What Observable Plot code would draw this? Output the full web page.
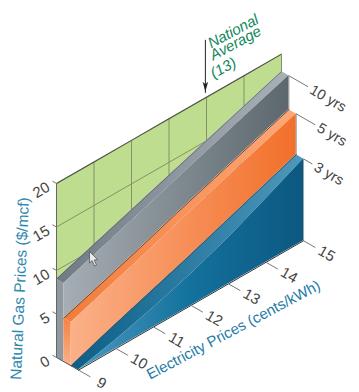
<!DOCTYPE html>
<html>
<head>
<meta charset="utf-8">
<script src="https://cdn.jsdelivr.net/npm/d3@7"></script>
<script src="https://cdn.jsdelivr.net/npm/@observablehq/plot@0.6"></script>
<style>
html,body{margin:0;padding:0;background:#fff}
svg{display:block}
</style>
</head>
<body>
<div id="chart"></div>
<script>
const electricity = [9, 10, 11, 12, 13, 14, 15];
const gasTicks = [0, 5, 10, 15, 20];
const gridElectricity = [10, 11, 12, 13, 14];
const gridGas = [10, 15];
const seriesNames = ["10 yrs", "5 yrs", "3 yrs"];
const tenYears = [9, 10.5, 12, 13.5, 15, 16.5, 18];
const fiveYears = [5, 6.5, 8, 9.6, 11.1, 12.6, 14.1];
const threeYears = [0, 1.6, 3.1, 4.6, 6.2, 7.8, 9.4];
const threeYearsFront = [0, 1, 2.2, 3.6, 5.3, 7.3, 9.4];
const wallTop = 20;
const nationalAverage = 13;

// oblique projection: electricity runs back along the floor, each band steps forward in depth
const risePerCent = 2.478, depthCents = 0.196, depthGas = 0.483;
const U = (e, d) => e + depthCents * d;
const V = (e, g, d) => g + risePerCent * (e - 9) - depthGas * d;

function band(es, g1, d1, g2, d2) {
  return es.map((e, i) => ({
    x1: U(e, d1), y1: V(e, g1[i], d1),
    x2: U(e, d2), y2: V(e, g2[i], d2)
  }));
}
function edge(es, gs, d) {
  return es.map((e, i) => ({x: U(e, d), y: V(e, gs[i], d)}));
}
const zeros = electricity.map(() => 0);
const tops = electricity.map(() => wallTop);
const face = (rows, fill) => Plot.area(rows, {x1: "x1", y1: "y1", x2: "x2", y2: "y2", fill});
const stroke = (rows, color, w) => Plot.line(rows, {x: "x", y: "y", stroke: color, strokeWidth: w});

const ink = "#444";
const gridInk = "#84926a";
const sans = "Liberation Sans, Helvetica, Arial, sans-serif";

const arrowHead = {draw(c, s) { const r = Math.sqrt(s / Math.PI);
  c.moveTo(0, r); c.lineTo(-r * 0.55, -r); c.lineTo(0, -r * 0.5); c.lineTo(r * 0.55, -r); c.closePath(); }};
const cursor = {draw(c) {
  c.moveTo(0, 0); c.lineTo(0, 11.5); c.lineTo(2.6, 9); c.lineTo(5, 14.5); c.lineTo(7, 13.6);
  c.lineTo(4.7, 8.4); c.lineTo(8.2, 8.2); c.closePath(); }};

const noteLines = [["National", 2.4, -53], ["Average", 4.6, -41], ["(13)", 5, -23]];

const marks = [
  // back wall with grid
  face(band(electricity, tops, 0, tenYears, 0), "#bedd8f"),
  ...gridElectricity.map(e => Plot.link([e], {
    x1: d => U(d, 0), y1: d => V(d, 0, 0), x2: d => U(d, 0), y2: d => V(d, wallTop, 0),
    stroke: gridInk, strokeWidth: 1
  })),
  ...gridGas.map(g => stroke(edge(electricity, electricity.map(() => g), 0), gridInk, 1)),
  stroke(edge(electricity, tops, 0), "#4c4c4c", 1.1),
  Plot.link([15], {x1: d => U(d, 0), y1: d => V(d, tenYears[6], 0), x2: d => U(d, 0), y2: d => V(d, wallTop, 0), stroke: gridInk, strokeWidth: 1}),

  // left end of the grey block
  face(band([9, 9], [9, 0], 0, [9, 0], 1), "#8f999f"),
  // grey band
  face(band(electricity, tenYears, 0, tenYears, 1), "url(#greyTop)"),
  face(band(electricity, tenYears, 1, fiveYears, 1), "url(#greyFront)"),
  face(band([9, 9], [5, 0], 1, [0, 0], 1), "#a3acb2"),

  // orange band
  face(band([9, 9], [5, 0], 1, [5, 0], 2), "url(#orangeSide)"),
  face(band(electricity, fiveYears, 1, fiveYears, 2), "url(#orangeTop)"),
  face(band(electricity, fiveYears, 2, threeYears, 2), "url(#orangeFront)"),

  // blue band
  face(band(electricity, threeYears, 2, threeYearsFront, 3), "url(#blueTop)"),
  face(band(electricity, threeYearsFront, 3, zeros, 3), "url(#blueFront)"),

  // edges
  stroke(edge(electricity, tenYears, 0), "#5a6266", 0.7),
  stroke(edge(electricity, fiveYears, 1), "#4c4c4c", 0.9),
  stroke(edge(electricity, threeYears, 2), "#4c4c4c", 0.9),
  stroke(edge(electricity, zeros, 3), "#333", 1),
  stroke(edge([9, 9], [0, wallTop], 0), "#666", 1),
  stroke([{x: U(9, 0), y: V(9, 0, 0)}, {x: U(9, 3), y: V(9, 0, 3)}], "#555", 1),
  stroke(edge([15, 15], [tenYears[6], fiveYears[6]], 1), "#666", 0.7),
  stroke(edge([15, 15], [fiveYears[6], threeYears[6]], 2), "#666", 0.7),
  stroke(edge([15, 15], [threeYears[6], 0], 3), "#777", 0.7),

  // gas axis
  Plot.link(gasTicks, {x1: () => U(9, -0.55), y1: d => V(9, d, -0.55), x2: () => U(9, 0), y2: d => V(9, d, 0), stroke: "#777", strokeWidth: 1}),
  Plot.text(gasTicks, {x: () => U(9, 0), y: d => V(9, d, 0), text: d => String(d), rotate: -30, textAnchor: "end", dx: -8, dy: 2.5, fontSize: 15, fontFamily: sans, fill: ink}),

  // electricity axis
  Plot.link(electricity, {x1: d => U(d, 3), y1: d => V(d, 0, 3), x2: d => U(d, 4.6), y2: d => V(d, 0, 4.6), stroke: "#777", strokeWidth: 1}),
  Plot.text(electricity, {x: d => U(d, 3), y: d => V(d, 0, 3), text: d => String(d), rotate: 30, dx: 23, dy: 13, fontSize: 15, fontFamily: sans, fill: ink}),

  // series leaders and labels
  ...seriesNames.map((name, i) => {
    const g = [tenYears, fiveYears, threeYears][i][6], d0 = i + 1, d1 = [3.6, 4.6, 4.2][i];
    return [
      Plot.link([name], {x1: () => U(15, d0), y1: () => V(15, g, d0), x2: () => U(15, d1), y2: () => V(15, g, d1), stroke: "#777", strokeWidth: 1}),
      Plot.text([name], {x: () => U(15, d1), y: () => V(15, g, d1), text: d => d, rotate: 30, textAnchor: "start", dx: 3, dy: 2, fontSize: 14.5, fontFamily: sans, fill: ink})
    ];
  }),

  // national average note
  Plot.link([nationalAverage], {x1: d => U(d - 0.03, 0), y1: d => V(d, wallTop + 6.6, 0), x2: d => U(d - 0.03, 0), y2: d => V(d, wallTop + 0.5, 0), stroke: "#222", strokeWidth: 1}),
  Plot.dot([nationalAverage], {x: d => U(d - 0.03, 0), y: d => V(d, wallTop + 1.2, 0), r: 5, symbol: arrowHead, fill: "#222", stroke: "none"}),
  ...noteLines.map(([t, dx, dy]) => Plot.text([t], {
    x: () => U(nationalAverage, 0), y: () => V(nationalAverage, wallTop, 0), text: d => d,
    textAnchor: "start", rotate: -28, dx, dy, fontSize: 15, fontStyle: "italic", fontFamily: sans, fill: "#12875c"
  })),

  // axis titles
  Plot.text(["Natural Gas Prices ($/mcf)"], {frameAnchor: "top-left", textAnchor: "middle", lineAnchor: "middle", text: d => d, dx: 19.5, dy: 288, rotate: -87.5, fontSize: 15.5, fontFamily: sans, fill: "#2f88ae"}),
  Plot.text(["Electricity Prices (cents/kWh)"], {frameAnchor: "top-left", textAnchor: "middle", lineAnchor: "middle", text: d => d, dx: 233, dy: 329.5, rotate: -28, fontSize: 15, fontFamily: sans, fill: "#1f7ba6"}),

  // pointer
  Plot.dot([9.88], {x: d => U(d, 0), y: d => V(d, 10, 0), r: 5, symbol: cursor, fill: "#e8ebee", stroke: "#555", strokeWidth: 0.8})
].flat();

const chart = Plot.plot({
  width: 359, height: 392,
  marginTop: 0, marginRight: 0, marginBottom: 0, marginLeft: 0,
  x: {domain: [9, 15], range: [56, 281], axis: null},
  y: {domain: [0, 20], range: [357, 183], axis: null},
  style: {background: "#fff", overflow: "visible"},
  marks
});

const gradients = {
  greyTop: [["#6f7a83", 0], ["#a9b1b7", 1]],
  greyFront: [["#a5aeb4", 0], ["#5c676e", 1]],
  orangeTop: [["#f27c3a", 0], ["#fca878", 1]],
  orangeFront: [["#fbb088", 0], ["#f2702a", 1]],
  blueTop: [["#0c5f88", 0], ["#4d98bc", 1]],
  blueFront: [["#4a98bd", 0], ["#13719d", 0.5], ["#0c5880", 1]]
};
const defs = d3.select(chart).insert("defs", ":first-child");
for (const [id, stops] of Object.entries(gradients)) {
  const g = defs.append("linearGradient").attr("id", id).attr("x1", 0).attr("x2", 1).attr("y1", 0).attr("y2", 0);
  for (const [c, o] of stops) g.append("stop").attr("offset", o).attr("stop-color", c);
}
const side = defs.append("linearGradient").attr("id", "orangeSide").attr("x1", 0).attr("x2", 0).attr("y1", 0).attr("y2", 1);
side.append("stop").attr("offset", 0).attr("stop-color", "#f38243");
side.append("stop").attr("offset", 1).attr("stop-color", "#fbb18a");

document.getElementById("chart").append(chart);
</script>
</body>
</html>
